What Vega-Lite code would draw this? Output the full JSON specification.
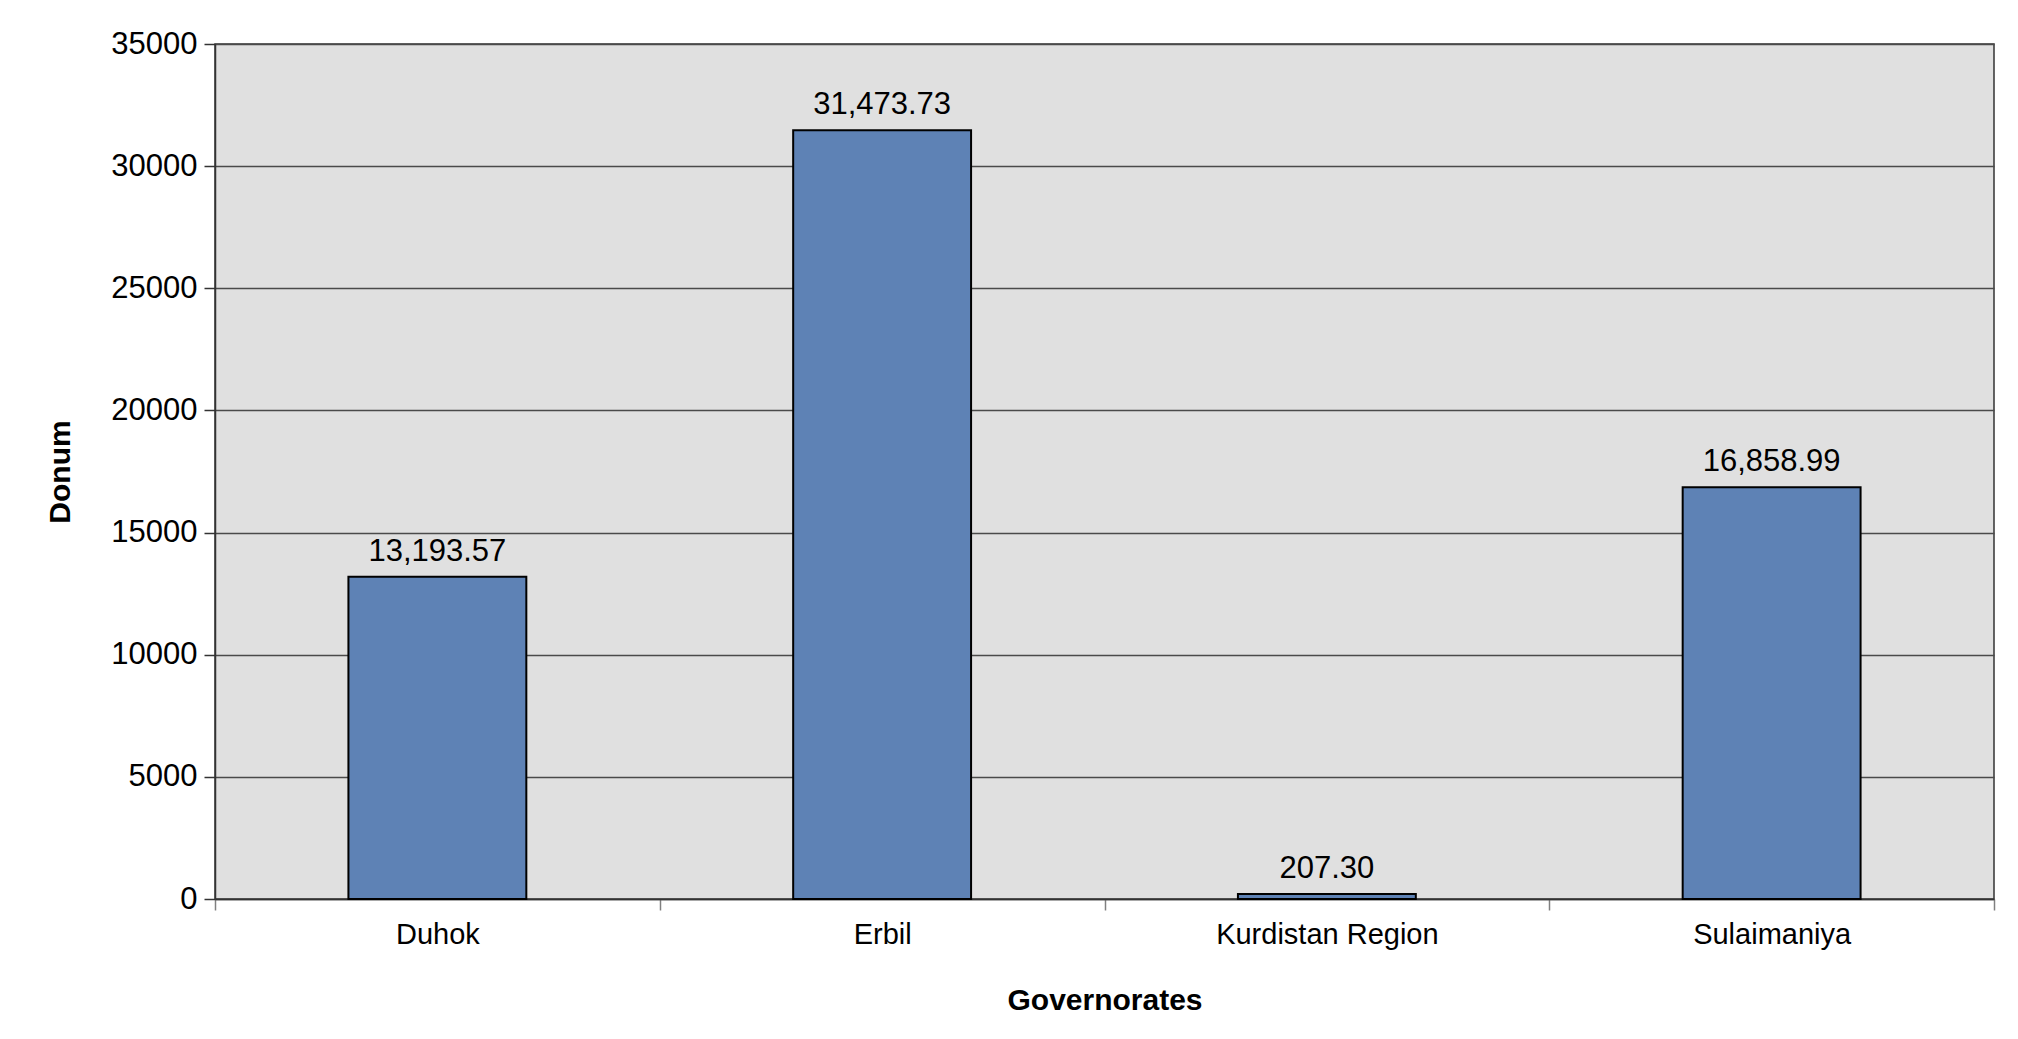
{
  "$schema": "https://vega.github.io/schema/vega-lite/v6.json",
  "autosize": "none",
  "width": 1779,
  "height": 855,
  "padding": {"left": 215, "top": 44, "right": 24, "bottom": 140},
  "background": "#ffffff",
  "config": {
    "font": "Liberation Sans",
    "view": {"fill": "#e0e0e0", "stroke": "#333333", "strokeWidth": 1.5}
  },
  "data": {
    "values": [
      {"Governorate": "Duhok", "Donum": 13193.57},
      {"Governorate": "Erbil", "Donum": 31473.73},
      {"Governorate": "Kurdistan Region", "Donum": 207.30},
      {"Governorate": "Sulaimaniya", "Donum": 16858.99}
    ]
  },
  "encoding": {
    "x": {
      "field": "Governorate",
      "type": "nominal",
      "sort": null,
      "scale": {"paddingInner": 0, "paddingOuter": 0},
      "axis": {
        "title": "Governorates",
        "titleFont": "Liberation Sans",
        "titleFontSize": 30,
        "titleFontWeight": "bold",
        "titleColor": "#000000",
        "titleX": 889.5,
        "titleY": 110,
        "titleAlign": "center",
        "titleBaseline": "alphabetic",
        "labelAngle": 0,
        "labelFontSize": 29,
        "labelColor": "#000000",
        "labelBaseline": "alphabetic",
        "labelPadding": 33,
        "labelLimit": 0,
        "tickBand": "extent",
        "tickSize": 11,
        "tickColor": "#808080",
        "tickWidth": 1.5,
        "domainColor": "#333333",
        "domainWidth": 1.5,
        "grid": false
      }
    },
    "y": {
      "field": "Donum",
      "type": "quantitative",
      "scale": {"domain": [0, 35000], "nice": false},
      "axis": {
        "title": "Donum",
        "titleFontSize": 30,
        "titleFontWeight": "bold",
        "titleColor": "#000000",
        "titleAngle": -90,
        "titleX": -155,
        "titleY": 427.5,
        "titleAlign": "center",
        "titleBaseline": "middle",
        "values": [0, 5000, 10000, 15000, 20000, 25000, 30000, 35000],
        "format": "d",
        "labelFontSize": 31,
        "labelColor": "#000000",
        "labelPadding": 7,
        "tickSize": 11,
        "tickColor": "#333333",
        "tickWidth": 1.5,
        "domainColor": "#333333",
        "domainWidth": 1.5,
        "grid": true,
        "gridColor": "#4a4a4a",
        "gridWidth": 1.5
      }
    }
  },
  "layer": [
    {
      "mark": {"type": "bar", "fill": "#5e82b5", "stroke": "#000000", "strokeWidth": 2, "width": {"band": 0.4}}
    },
    {
      "mark": {"type": "text", "fontSize": 31, "color": "#000000", "baseline": "alphabetic", "align": "center", "dy": -16},
      "encoding": {
        "text": {"field": "Donum", "type": "quantitative", "format": ",.2f"}
      }
    }
  ]
}
